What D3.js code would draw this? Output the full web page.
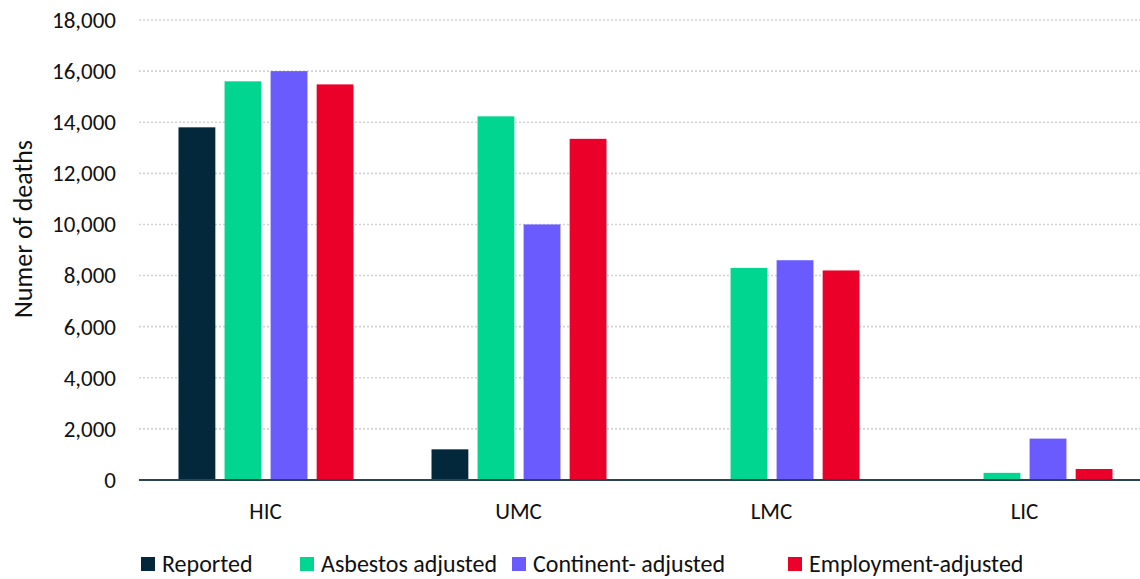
<!DOCTYPE html>
<html>
<head>
<meta charset="utf-8">
<script src="https://cdn.jsdelivr.net/npm/d3@7"></script>
<style>
  body { margin: 0; background: #fff; }
  svg { display: block; font-family: Carlito, "Open Sans", "Noto Sans", sans-serif; }
</style>
</head>
<body>
<svg id="chart" width="1140" height="579"></svg>
<script>
// data
var categories = ["HIC", "UMC", "LMC", "LIC"];
var seriesNames = ["Reported", "Asbestos adjusted", "Continent- adjusted", "Employment-adjusted"];
var reported   = [13800, 1200, 0, 0];
var asbestos   = [15600, 14230, 8300, 280];
var continent  = [16000, 10000, 8600, 1620];
var employment = [15480, 13350, 8200, 430];
var yTicks = [0, 2000, 4000, 6000, 8000, 10000, 12000, 14000, 16000, 18000];
var colors = ["#03283c", "#00d68f", "#6a5bff", "#eb0029"];

var allSeries = [reported, asbestos, continent, employment];
var fontStack = 'Carlito, "Open Sans", "Noto Sans", sans-serif';

var svg = d3.select("#chart");

var x0 = d3.scaleBand()
	.domain(categories)
	.range([139, 1151]);

var x1 = d3.scaleBand()
	.domain(seriesNames)
	.range([39.5, 214.5])
	.paddingInner(0.2);

var y = d3.scaleLinear()
	.domain([0, 18000])
	.range([480, 20]);

// gridlines
svg.append("g")
	.selectAll("line")
	.data(yTicks.slice(1))
	.enter().append("line")
	.attr("x1", 139)
	.attr("x2", 1140)
	.attr("y1", function(d){ return y(d); })
	.attr("y2", function(d){ return y(d); })
	.style("stroke", "#cfd3d6")
	.style("stroke-width", 1.6)
	.style("stroke-dasharray", "2,2");

// y axis labels
var yAxis = d3.axisLeft(y)
	.tickValues(yTicks)
	.tickFormat(d3.format(","))
	.tickSize(0)
	.tickPadding(0);

var gy = svg.append("g")
	.attr("transform", "translate(116,0)")
	.call(yAxis);
gy.select(".domain").remove();
gy.selectAll("text")
	.style("font-family", fontStack)
	.style("font-size", "23px")
	.style("fill", "#111");

// bars
var groups = svg.append("g")
	.selectAll("g")
	.data(categories)
	.enter().append("g")
	.attr("transform", function(d){ return "translate(" + x0(d) + ",0)"; });

groups.selectAll("rect")
	.data(function(d, i){
		return seriesNames.map(function(s, j){
			return {name: s, value: allSeries[j][i], color: colors[j]};
		});
	})
	.enter().append("rect")
	.filter(function(d){ return d.value > 0; })
	.attr("x", function(d){ return x1(d.name); })
	.attr("width", x1.bandwidth())
	.attr("y", function(d){ return y(d.value); })
	.attr("height", function(d){ return y(0) - y(d.value); })
	.style("fill", function(d){ return d.color; });

// zero line
svg.append("line")
	.attr("x1", 139)
	.attr("x2", 1140)
	.attr("y1", y(0))
	.attr("y2", y(0))
	.style("stroke", "#2b4452")
	.style("stroke-width", 2);

// x axis labels
var xAxis = d3.axisBottom(x0).tickSize(0).tickPadding(0);
var gx = svg.append("g")
	.attr("transform", "translate(0,519)")
	.call(xAxis);
gx.select(".domain").remove();
gx.selectAll("text")
	.attr("dy", 0)
	.style("font-family", fontStack)
	.style("font-size", "23px")
	.style("fill", "#111");

// y title
svg.append("text")
	.attr("transform", "translate(23,229) rotate(-90)")
	.attr("text-anchor", "middle")
	.attr("dy", "0.35em")
	.style("font-size", "26px")
	.style("fill", "#111")
	.text("Numer of deaths");

// legend
var legendX = [141, 300, 512, 788];
var legend = svg.append("g")
	.selectAll("g")
	.data(seriesNames)
	.enter().append("g")
	.attr("transform", function(d, i){ return "translate(" + legendX[i] + ",557)"; });

legend.append("rect")
	.attr("width", 14)
	.attr("height", 14)
	.style("fill", function(d, i){ return colors[i]; });

legend.append("text")
	.attr("x", 21)
	.attr("y", 7)
	.attr("dy", "0.35em")
	.style("font-size", "24px")
	.style("fill", "#111")
	.text(function(d){ return d; });
</script>
</body>
</html>
